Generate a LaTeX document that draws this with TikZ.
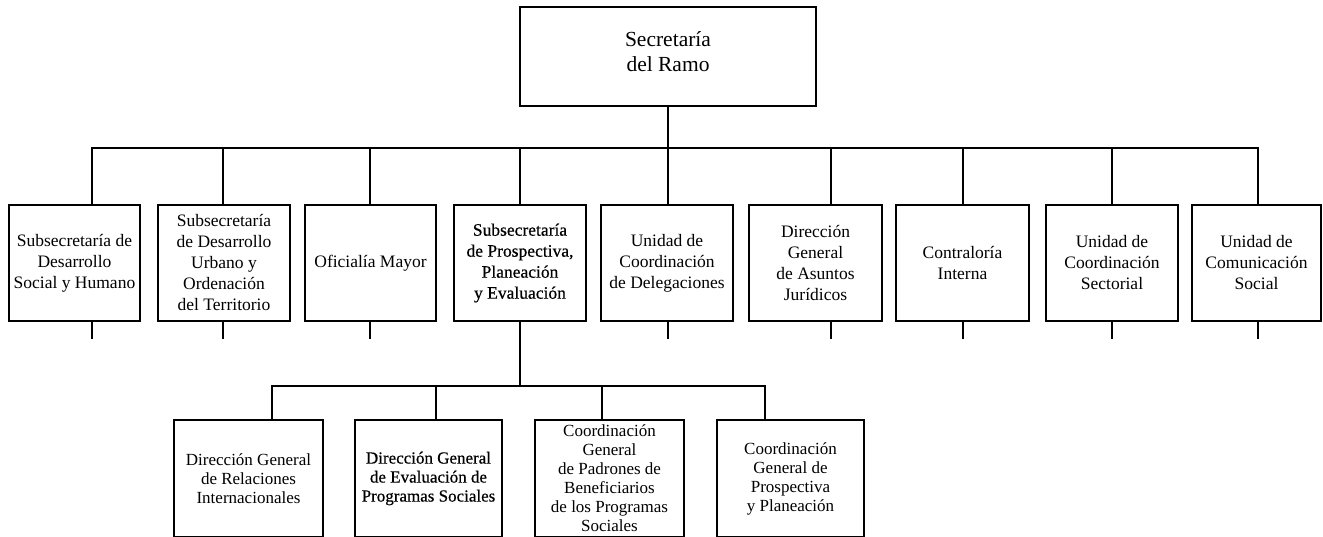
\documentclass[tikz,border=0pt]{standalone}
\usepackage{fontspec}
\setmainfont{Liberation Serif}
\newfontfamily\heavyserif[FakeBold=0.5]{Liberation Serif}
\begin{document}
\begin{tikzpicture}[x=1pt,y=-1pt,
  box/.style={draw, line width=1.1pt, inner sep=0pt, align=center},
  mid/.style={box, minimum height=116pt, font=\fontsize{17.5}{21}\selectfont},
  low/.style={box, minimum height=117pt, font=\fontsize{17}{19}\selectfont},
  link/.style={line width=1.1pt}]
\useasboundingbox (0,0) rectangle (1323,537);

% head of the ministry
\node[box, minimum width=296pt, minimum height=99pt,
      font=\fontsize{21.5}{25}\selectfont] (top) at (668,56.5) {Secretaría\\del Ramo\rule[-9pt]{0pt}{0pt}};

% units reporting directly to the head
\node[mid, minimum width=131pt] (m1) at (74.5,263) {Subsecretaría de\\Desarrollo\\Social y Humano};
\node[mid, minimum width=132pt] (m2) at (224,263) {Subsecretaría\\de Desarrollo\\Urbano y\\Ordenación\\del Territorio};
\node[mid, minimum width=131pt] (m3) at (370.5,263) {Oficialía Mayor};
\node[mid, minimum width=132pt, font=\fontsize{17.5}{21}\heavyserif] (m4) at (520,263) {Subsecretaría\\de Prospectiva,\\Planeación\\y Evaluación};
\node[mid, minimum width=132pt] (m5) at (667,263) {Unidad de\\Coordinación\\de Delegaciones};
\node[mid, minimum width=133pt] (m6) at (815.5,263) {Dirección\\General\\de Asuntos\\Jurídicos};
\node[mid, minimum width=133pt] (m7) at (962.5,263) {Contraloría\\Interna};
\node[mid, minimum width=132pt] (m8) at (1112,263) {Unidad de\\Coordinación\\Sectorial};
\node[mid, minimum width=129pt] (m9) at (1256.5,263) {Unidad de\\Comunicación\\Social};

% units under the planning undersecretariat
\node[low, minimum width=149pt] (b1) at (248.5,478.5) {Dirección General\\de Relaciones\\Internacionales};
\node[low, minimum width=147pt, font=\fontsize{17}{19}\heavyserif] (b2) at (428.5,478.5) {Dirección General\\de Evaluación de\\Programas Sociales};
\node[low, minimum width=149pt] (b3) at (609.5,478.5) {Coordinación\\General\\de Padrones de\\Beneficiarios\\de los Programas\\Sociales};
\node[low, minimum width=147pt] (b4) at (790.5,478.5) {Coordinación\\General de\\Prospectiva\\y Planeación};

% upper distribution line
\coordinate (bus) at (668,148);
\draw[link] (top.south) -- (bus);
\draw[link] ([xshift=17.5pt]m1.north) |- (bus) -| ([xshift=1.5pt]m9.north);
\foreach \n/\dx in {m2/-1, m3/-0.5, m4/0, m5/1, m6/15.5, m7/0.5, m8/0}
  \draw[link] ([xshift=\dx pt]\n.north) -- ([xshift=\dx pt]\n.north |- bus);

% short stubs below the upper units
\foreach \n/\dx in {m1/17.5, m2/-1, m3/-0.5, m5/1, m6/15.5, m7/0.5, m8/0, m9/1.5}
  \draw[link] ([xshift=\dx pt]\n.south) -- ++(0,17);

% lower distribution line
\coordinate (lowbus) at (520,386);
\draw[link] (m4.south) -- (lowbus);
\draw[link] ([xshift=23.5pt]b1.north) |- (lowbus) -| ([xshift=-25.5pt]b4.north);
\draw[link] ([xshift=7.5pt]b2.north) -- ([xshift=7.5pt]b2.north |- lowbus);
\draw[link] ([xshift=-7.5pt]b3.north) -- ([xshift=-7.5pt]b3.north |- lowbus);
\end{tikzpicture}
\end{document}
